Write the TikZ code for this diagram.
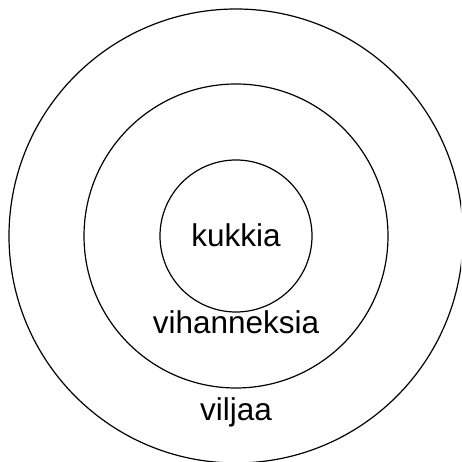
\documentclass[tikz,border=0pt]{standalone}
\usepackage{fontspec}
\setmainfont{Liberation Sans}
\usetikzlibrary{positioning}

\begin{document}
\begin{tikzpicture}[
    x=1pt, y=1pt,
    ring/.style={circle, draw, line width=1.2pt, inner sep=0pt, outer sep=0pt},
    lbl/.style={anchor=base, inner sep=0pt, font=\fontsize{31.5}{38}\selectfont}
]
  \useasboundingbox (0,0) rectangle (461,462);
  \clip (0,0) rectangle (461,462);
  \coordinate (c) at (236,226);
  \node[ring, minimum size=454pt] (outer)  at (c) {};
  \node[ring, minimum size=304pt] (middle) at (c) {};
  \node[ring, minimum size=152pt] (inner)  at (c) {};
  \node[lbl] (kukkia)      at (236,215) {kukkia};
  \node[lbl] (vihanneksia) at (236,128) {vihanneksia};
  \node[lbl] (viljaa)      at (236,41)  {viljaa};
\end{tikzpicture}
\end{document}
